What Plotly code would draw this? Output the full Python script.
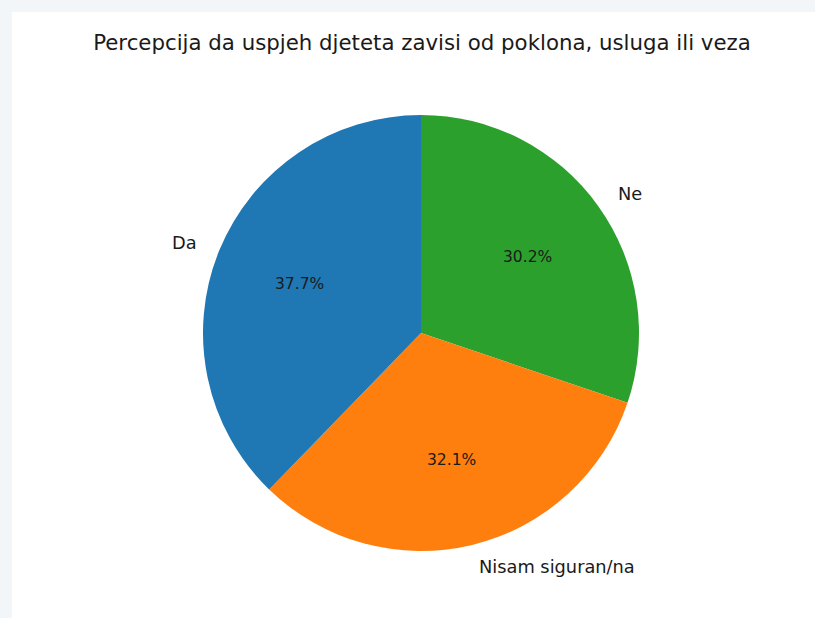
import math
import plotly.graph_objects as go

# Data
categories = ["Da", "Nisam siguran/na", "Ne"]
counts = [20, 17, 16]
colors = ["#1f77b4", "#ff7f0e", "#2ca02c"]
title = "Percepcija da uspjeh djeteta zavisi od poklona, usluga ili veza"

W, H = 815, 618
cx, cy = 421, 333          # pie centre (px from top-left)
R = 218                    # pie radius (px)
BG = "#f3f6f9"

# matplotlib-style: start at 12 o'clock, counterclockwise.
# Equivalent in plotly: clockwise from 12 o'clock with reversed order.
fig = go.Figure()
fig.add_trace(go.Pie(
    labels=categories[::-1],
    values=counts[::-1],
    marker=dict(colors=colors[::-1], line=dict(width=0)),
    sort=False,
    direction="clockwise",
    rotation=0,
    textinfo="none",
    showlegend=False,
    domain=dict(x=[(cx - 300) / W, (cx + 300) / W],
                y=[(H - cy - R) / H, (H - cy + R) / H]),
))

# Labels and percentages placed like matplotlib (label at 1.1 r, pct at 0.6 r)
total = sum(counts)
annotations = []
start = 90.0
for cat, v in zip(categories, counts):
    frac = v / total
    mid = math.radians(start + 360 * frac / 2)
    start += 360 * frac
    ux, uy = math.cos(mid), math.sin(mid)
    lx = (cx + 1.1 * R * ux) / W
    ly = (H - cy + 1.1 * R * uy) / H
    annotations.append(dict(
        x=lx, y=ly, xref="paper", yref="paper", text=cat, showarrow=False,
        xanchor="left" if ux > 0 else "right", yanchor="middle",
        font=dict(family="DejaVu Sans", size=17.8, color="#1a1a1a")))
    px_ = (cx + 0.6 * R * ux) / W
    py_ = (H - cy + 0.6 * R * uy) / H
    annotations.append(dict(
        x=px_, y=py_, xref="paper", yref="paper", text=f"{100 * frac:.1f}%",
        showarrow=False, xanchor="center", yanchor="middle",
        font=dict(family="DejaVu Sans", size=15.5, color="#1a1a1a")))

fig.update_layout(
    width=W, height=H,
    margin=dict(l=0, r=0, t=0, b=0),
    paper_bgcolor=BG,
    title=dict(text=title, x=422 / W, xanchor="center", y=1 - 43 / H, yanchor="middle",
               font=dict(family="DejaVu Sans", size=21.3, color="#1a1a1a")),
    shapes=[dict(type="rect", xref="paper", yref="paper",
                 x0=12 / W, x1=1, y0=0, y1=1 - 12 / H,
                 fillcolor="white", line=dict(width=0), layer="below")],
    annotations=annotations,
)

fig.write_html(
    "out.html",
    config={"displayModeBar": False},
    post_script=f"document.body.style.margin='0';document.body.style.background='{BG}';"
                "document.body.style.overflow='hidden';",
)
